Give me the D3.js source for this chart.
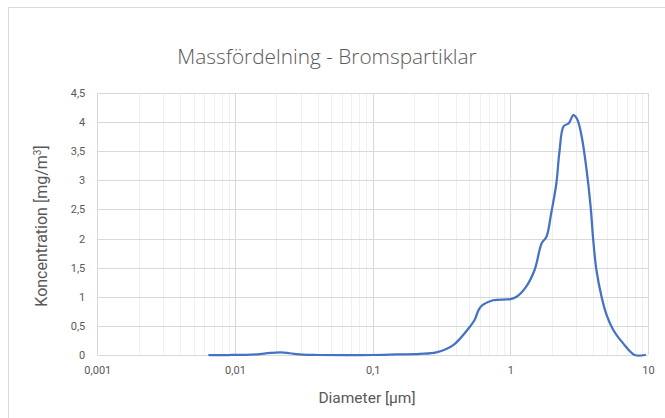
<!DOCTYPE html>
<html>
<head>
<meta charset="utf-8">
<script src="https://cdn.jsdelivr.net/npm/d3@7"></script>
<style>
  html, body { margin: 0; padding: 0; background: #fff; }
  svg { display: block; }
</style>
</head>
<body>
<svg id="chart" width="665" height="418"></svg>
<script>
// ---- Data ----
const diameters = [0.0065, 0.009, 0.012, 0.0145, 0.018, 0.0215, 0.025, 0.031, 0.04, 0.06, 0.1, 0.15, 0.22, 0.29, 0.385, 0.51, 0.55, 0.59, 0.63, 0.75, 1.0, 1.11, 1.30, 1.50, 1.69, 1.83, 1.98, 2.16, 2.27, 2.44, 2.66, 2.87, 3.06, 3.30, 3.58, 3.83, 4.00, 4.22, 4.60, 5.00, 5.60, 6.60, 8.00, 9.50];
const concentrations = [0, 0, 0.003, 0.012, 0.035, 0.045, 0.03, 0.005, 0, 0, 0, 0.01, 0.02, 0.045, 0.17, 0.49, 0.6, 0.78, 0.86, 0.94, 0.96, 1.0, 1.17, 1.46, 1.92, 2.03, 2.43, 2.95, 3.47, 3.93, 3.98, 4.12, 4.05, 3.75, 3.18, 2.55, 1.98, 1.46, 1.0, 0.69, 0.43, 0.2, 0, 0];
const xTickValues = [0.001, 0.01, 0.1, 1, 10];
const xTickLabels = ["0,001", "0,01", "0,1", "1", "10"];
const yTickValues = [0, 0.5, 1, 1.5, 2, 2.5, 3, 3.5, 4, 4.5];
const yTickLabels = ["0", "0,5", "1", "1,5", "2", "2,5", "3", "3,5", "4", "4,5"];
const titleText = "Massfördelning - Bromspartiklar";
const xTitle = "Diameter [µm]";
const yTitle = "Koncentration [mg/m";

(function () {
// ---- Layout ----
const svg = d3.select("#chart");
const pl = 97.3, pr = 648, pt = 93, pb = 355;

const x = d3.scaleLog().domain([0.001, 10]).range([pl, pr]);
const y = d3.scaleLinear().domain([0, 4.5]).range([pb, pt]);

// chart border
svg.append("rect").attr("x", 8.5).attr("y", 7.5).attr("width", 670).attr("height", 420)
  .attr("fill", "#fff").attr("stroke", "#d9d9d9").attr("stroke-width", 1);

// minor vertical gridlines
const minor = [];
for (let e = -3; e < 1; e++) for (let m = 2; m <= 9; m++) minor.push(m * Math.pow(10, e));
svg.append("g").selectAll("line").data(minor).join("line")
  .attr("x1", d => Math.round(x(d)) + 0.5).attr("x2", d => Math.round(x(d)) + 0.5)
  .attr("y1", pt).attr("y2", pb)
  .attr("stroke", "#f0f0f0").attr("stroke-width", 1);

// major horizontal gridlines
svg.append("g").selectAll("line").data(yTickValues).join("line")
  .attr("x1", pl).attr("x2", pr)
  .attr("y1", d => Math.round(y(d)) + 0.5).attr("y2", d => Math.round(y(d)) + 0.5)
  .attr("stroke", "#d9d9d9").attr("stroke-width", 1);

// major vertical gridlines
svg.append("g").selectAll("line").data(xTickValues).join("line")
  .attr("x1", d => Math.round(x(d)) + 0.5).attr("x2", d => Math.round(x(d)) + 0.5)
  .attr("y1", pt).attr("y2", pb)
  .attr("stroke", "#d9d9d9").attr("stroke-width", 1);

// axes (labels only)
const xAxis = d3.axisBottom(x).tickValues(xTickValues)
  .tickFormat((d, i) => xTickLabels[i]).tickSize(0).tickPadding(11);
const gx = svg.append("g").attr("transform", `translate(0,${pb})`).call(xAxis);
gx.select(".domain").remove();
gx.selectAll("text").attr("fill", "#595959").style("font-family", "Roboto, sans-serif").style("font-size", "11px");

const yAxis = d3.axisLeft(y).tickValues(yTickValues)
  .tickFormat((d, i) => yTickLabels[i]).tickSize(0).tickPadding(12);
const gy = svg.append("g").attr("transform", `translate(${pl},0)`).call(yAxis);
gy.select(".domain").remove();
gy.selectAll("text").attr("fill", "#595959").style("font-family", "Roboto, sans-serif").style("font-size", "11px");

// data line
const line = d3.line()
  .x((d, i) => x(diameters[i]))
  .y((d, i) => y(concentrations[i]))
  .curve(d3.curveCatmullRom.alpha(0.5));
svg.append("path").datum(concentrations)
  .attr("d", line).attr("fill", "none")
  .attr("stroke", "#4472C4").attr("stroke-width", 2.25)
  .attr("stroke-linejoin", "round").attr("stroke-linecap", "round");

// title
svg.append("text").attr("x", 327).attr("y", 64).attr("text-anchor", "middle")
  .attr("fill", "#595959").style("font-family", "'Open Sans', sans-serif")
  .style("font-weight", 300).style("font-size", "20.8px").text(titleText);

// axis titles
svg.append("text").attr("x", 367).attr("y", 403).attr("text-anchor", "middle")
  .attr("fill", "#595959").style("font-family", "Roboto, sans-serif")
  .style("font-size", "15.5px").text(xTitle);

const yt = svg.append("text").attr("transform", "translate(47,226) rotate(-90)")
  .attr("text-anchor", "middle").attr("fill", "#595959")
  .style("font-family", "Roboto, sans-serif").style("font-size", "16px");
yt.append("tspan").text(yTitle);
yt.append("tspan").attr("dy", -6).style("font-size", "10px").text("3");
yt.append("tspan").attr("dy", 6).text("]");
})();
</script>
</body>
</html>
